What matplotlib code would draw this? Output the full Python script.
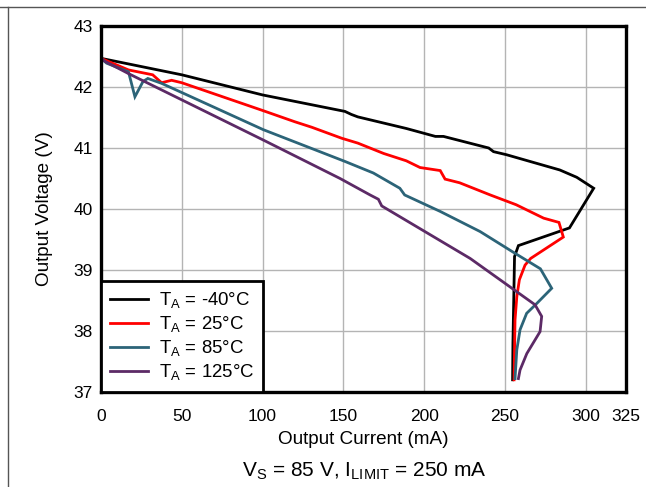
import matplotlib
matplotlib.use("Agg")
import matplotlib.pyplot as plt
from matplotlib.lines import Line2D

plt.rcParams['font.family'] = ['Liberation Sans', 'DejaVu Sans']

# Data (Output current mA, Output voltage V)
cur_m40 = [0, 50, 100, 151, 155, 159, 189, 207, 212, 240, 243, 251, 284, 294.5, 305, 290, 258.4, 256, 255.5, 255, 254.8]
vol_m40 = [42.47, 42.2, 41.87, 41.6, 41.55, 41.51, 41.32, 41.19, 41.19, 41.0, 40.94, 40.89, 40.64, 40.52, 40.34, 39.69, 39.40, 39.22, 38.5, 37.8, 37.2]

cur_25 = [0, 17, 32, 37.5, 43.7, 50, 99.5, 120, 130.5, 149, 159, 175, 189, 197.5, 210, 213, 222, 241, 257, 274, 283.5, 286.2, 266, 262.5, 259, 257.4, 256.3, 255.7]
vol_25 = [42.47, 42.28, 42.2, 42.07, 42.11, 42.07, 41.62, 41.43, 41.34, 41.16, 41.08, 40.91, 40.79, 40.68, 40.63, 40.49, 40.43, 40.23, 40.07, 39.85, 39.78, 39.54, 39.19, 39.08, 38.84, 38.56, 38.18, 37.2]

cur_85 = [0, 3.5, 17, 21, 26, 29, 37.5, 100.5, 151, 168.6, 185, 188, 210, 234.7, 255.3, 272, 279, 269.7, 263.5, 259.4, 257.4, 256.3]
vol_85 = [42.47, 42.39, 42.25, 41.84, 42.09, 42.14, 42.06, 41.3, 40.78, 40.59, 40.34, 40.23, 39.96, 39.63, 39.29, 39.02, 38.70, 38.45, 38.29, 38.02, 37.69, 37.22]

cur_125 = [0, 2.5, 17, 100.5, 148, 166.6, 171.7, 173.8, 228.5, 268.7, 272.8, 271.8, 263.6, 259.4, 258.4]
vol_125 = [42.47, 42.42, 42.22, 41.13, 40.5, 40.23, 40.16, 40.05, 39.19, 38.43, 38.24, 37.99, 37.63, 37.36, 37.22]

labels = ['T$_\\mathregular{A}$ = -40°C', 'T$_\\mathregular{A}$ = 25°C',
          'T$_\\mathregular{A}$ = 85°C', 'T$_\\mathregular{A}$ = 125°C']
colors = ['#000000', '#ff0000', '#2c6478', '#5c2a66']

xticks = [0, 50, 100, 150, 200, 250, 300, 325]
yticks = [37, 38, 39, 40, 41, 42, 43]

fig = plt.figure(figsize=(6.46, 4.87), dpi=100)
ax = fig.add_axes([101/646, 1-392/487, 525/646, 366/487])

series = [(cur_m40, vol_m40), (cur_25, vol_25), (cur_85, vol_85), (cur_125, vol_125)]
for (x, y), c, lab in zip(series, colors, labels):
    ax.plot(x, y, color=c, lw=2.0, label=lab, solid_joinstyle='miter')

ax.set_xlim(0, 325)
ax.set_ylim(37, 43)
ax.set_xticks(xticks)
ax.set_yticks(yticks)
ax.tick_params(axis='both', length=0, labelsize=12.5)
ax.tick_params(axis='x', pad=12.5)
ax.tick_params(axis='y', pad=6)
ax.grid(True, color='#b4b4b4', lw=1.0)
ax.set_axisbelow(True)
for s in ax.spines.values():
    s.set_linewidth(2.4)
    s.set_color('black')

ax.set_xlabel('Output Current (mA)', fontsize=13.6)
ax.xaxis.label.set_va('baseline')
ax.xaxis.set_label_coords(0.5, (392 - 443.5) / 366)
ax.set_ylabel('Output Voltage (V)', fontsize=13.6)
ax.yaxis.label.set_va('center')
ax.yaxis.set_label_coords((45 - 101) / 525, 0.5)

leg = ax.legend(loc='lower left', fontsize=13.4, frameon=True, fancybox=False,
                borderaxespad=0, handlelength=2.0, handletextpad=0.6,
                labelspacing=0.2, borderpad=0.5)
leg.get_frame().set_edgecolor('black')
leg.get_frame().set_linewidth(2.0)
leg.get_frame().set_alpha(1)

fig.text(364 / 646, 1 - 476/487, 'V$_\\mathregular{S}$ = 85 V, I$_\\mathregular{LIMIT}$ = 250 mA',
         ha='center', va='baseline', fontsize=15)

fig.add_artist(Line2D([0, 1], [1 - 7/487, 1 - 7/487], transform=fig.transFigure, color='#555555', lw=1.0))
fig.add_artist(Line2D([8/646, 8/646], [0, 1 - 7/487], transform=fig.transFigure, color='#555555', lw=1.0))

fig.savefig('out.png', dpi=100)
